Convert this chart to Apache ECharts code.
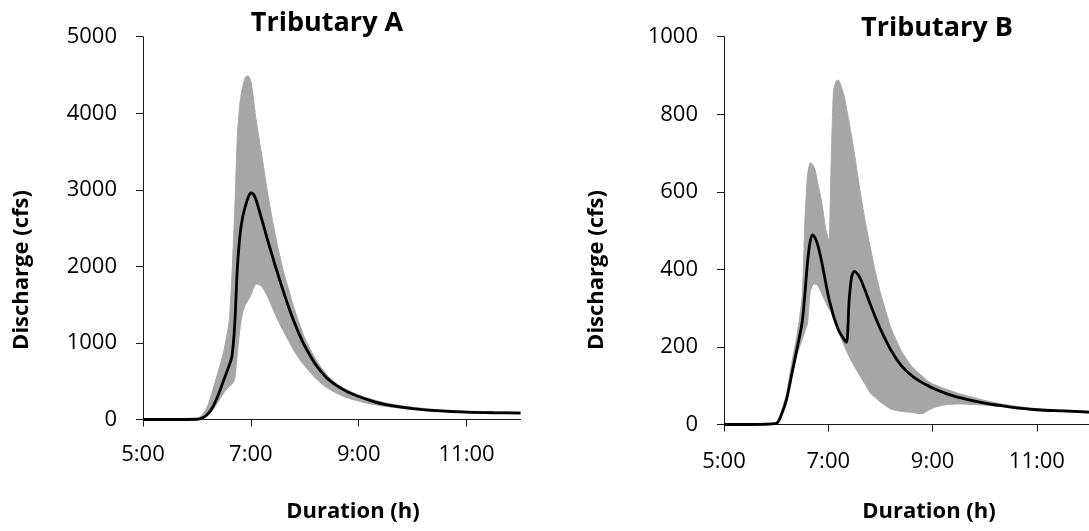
<!DOCTYPE html>
<html>
<head>
<meta charset="utf-8">
<script src="https://cdn.jsdelivr.net/npm/echarts@6/dist/echarts.min.js"></script>
<style>
html,body{margin:0;padding:0;background:#fff;}
#chart{width:1089px;height:531px;}
</style>
</head>
<body>
<div id="chart"></div>
<script>
// ---------- Tributary A ----------
const hoursA = [5.0, 5.5, 6.0, 6.1, 6.2, 6.3, 6.4, 6.5, 6.6, 6.65, 6.7, 6.75, 6.8, 6.85, 6.9, 6.95, 7.0, 7.05, 7.1, 7.2, 7.3, 7.4, 7.5, 7.6, 7.7, 7.8, 7.9, 8.0, 8.2, 8.4, 8.6, 8.8, 9.0, 9.25, 9.5, 10.0, 10.5, 11.0, 11.5, 12.0];
const meanA  = [0, 0, 3, 20, 70, 170, 330, 520, 710, 830, 1230, 1980, 2420, 2650, 2790, 2900, 2960, 2940, 2860, 2620, 2370, 2130, 1900, 1680, 1470, 1280, 1110, 960, 720, 550, 440, 360, 300, 240, 195, 142, 112, 96, 88, 84];
const upperA = [0, 0, 10, 60, 180, 400, 640, 900, 1300, 1900, 2700, 3700, 4150, 4350, 4470, 4490, 4420, 4180, 3900, 3460, 3000, 2600, 2250, 1950, 1700, 1460, 1250, 1060, 790, 590, 460, 380, 320, 262, 215, 160, 126, 110, 102, 98];
const lowerA = [0, 0, 0, 10, 50, 130, 240, 350, 430, 460, 520, 870, 1200, 1400, 1500, 1560, 1620, 1720, 1770, 1740, 1620, 1460, 1300, 1160, 1030, 900, 790, 700, 540, 420, 340, 280, 240, 200, 170, 130, 105, 90, 84, 80];

// ---------- Tributary B ----------
const hoursB = [5.0, 5.5, 6.0, 6.1, 6.2, 6.3, 6.4, 6.5, 6.55, 6.6, 6.65, 6.7, 6.75, 6.8, 6.85, 6.9, 6.95, 7.0, 7.02, 7.06, 7.1, 7.15, 7.2, 7.3, 7.35, 7.4, 7.45, 7.5, 7.6, 7.7, 7.8, 7.9, 8.0, 8.2, 8.4, 8.6, 8.8, 8.9, 9.0, 9.2, 9.5, 10.0, 10.5, 11.0, 11.5, 12.0];
const meanB  = [0, 0, 3, 25, 65, 130, 195, 265, 335, 415, 470, 489, 480, 462, 434, 402, 366, 332, 320, 300, 280, 260, 242, 220, 212, 320, 382, 395, 380, 348, 312, 278, 246, 192, 152, 126, 108, 101, 94, 83, 70, 55, 45, 38, 35, 32];
const upperB = [0, 0, 5, 35, 80, 160, 230, 330, 520, 640, 675, 670, 655, 620, 590, 550, 505, 478, 474, 700, 860, 885, 888, 850, 815, 780, 740, 700, 610, 530, 460, 395, 340, 250, 190, 150, 125, 113, 105, 94, 80, 62, 49, 41, 37, 34];
const lowerB = [0, 0, 2, 20, 60, 120, 180, 220, 240, 260, 340, 360, 362, 358, 345, 330, 315, 300, 298, 288, 272, 255, 238, 205, 190, 175, 162, 150, 127, 105, 82, 70, 58, 40, 34, 31, 28, 35, 42, 50, 53, 50, 44, 37, 33, 30];

const xTickValues = [5, 7, 9, 11];
const yTicksA = [0, 1000, 2000, 3000, 4000, 5000];
const yTicksB = [0, 200, 400, 600, 800, 1000];

const FONT = '"Open Sans", "DejaVu Sans", sans-serif';
const AXIS_COLOR = '#1a1a1a';
const BAND_COLOR = '#a6a6a6';

function pairs(xs, ys) { return xs.map((x, i) => [x, ys[i]]); }
function fmtHour(v) { return Math.round(v) + ':00'; }

function bandSeries(idx, xs, up, lo) {
  return {
    type: 'custom',
    xAxisIndex: idx, yAxisIndex: idx,
    silent: true, z: 1, clip: true,
    data: [[xs[0], 0]],
    renderItem: function (params, api) {
      const pts = [];
      for (let i = 0; i < xs.length; i++) pts.push(api.coord([xs[i], up[i]]));
      for (let i = xs.length - 1; i >= 0; i--) pts.push(api.coord([xs[i], lo[i]]));
      return { type: 'polygon', shape: { points: pts, smooth: 0.2 }, style: { fill: BAND_COLOR, stroke: BAND_COLOR, lineWidth: 1 } };
    }
  };
}

function meanSeries(idx, xs, ys) {
  return {
    type: 'line', xAxisIndex: idx, yAxisIndex: idx,
    data: pairs(xs, ys), showSymbol: false, symbol: 'none',
    smooth: 0.3, z: 3, silent: true,
    lineStyle: { color: '#000', width: 2.8 }
  };
}

function xAxisDef(idx, margin) {
  return {
    type: 'value', gridIndex: idx, min: 5, max: 12, interval: 1,
    axisLine: { show: true, onZero: false, lineStyle: { color: AXIS_COLOR, width: 1 } },
    axisTick: { show: true, length: 7, inside: false, customValues: xTickValues, lineStyle: { color: AXIS_COLOR } },
    axisLabel: { customValues: xTickValues, formatter: fmtHour, margin: margin, fontFamily: FONT, fontSize: 22, color: '#000' },
    splitLine: { show: false }
  };
}

function yAxisDef(idx, maxV, step, ticks) {
  return {
    type: 'value', gridIndex: idx, min: 0, max: maxV, interval: step,
    axisLine: { show: true, lineStyle: { color: AXIS_COLOR, width: 1 } },
    axisTick: { show: true, length: 7, inside: false, customValues: ticks, lineStyle: { color: AXIS_COLOR } },
    axisLabel: { customValues: ticks, formatter: function (v) { return String(v); }, margin: 26, fontFamily: FONT, fontSize: 22, color: '#000' },
    splitLine: { show: false }
  };
}

const chart = echarts.init(document.getElementById('chart'), null, { renderer: 'canvas' });
chart.setOption({
  animation: false,
  backgroundColor: '#fff',
  grid: [
    { left: 143, top: 36.7, right: 568.5, bottom: 111.5 },
    { left: 724, top: 36.7, right: -6.7, bottom: 106.5 }
  ],
  xAxis: [xAxisDef(0, 24), xAxisDef(1, 26)],
  yAxis: [yAxisDef(0, 5000, 1000, yTicksA), yAxisDef(1, 1000, 200, yTicksB)],
  graphic: [
    { type: 'text', x: 327, y: 23, style: { text: 'Tributary A', font: 'bold 27px ' + FONT, fill: '#000', align: 'center', verticalAlign: 'middle' } },
    { type: 'text', x: 937, y: 28, style: { text: 'Tributary B', font: 'bold 27px ' + FONT, fill: '#000', align: 'center', verticalAlign: 'middle' } },
    { type: 'text', x: 22, y: 270, rotation: Math.PI / 2, style: { text: 'Discharge (cfs)', font: 'bold 22px ' + FONT, fill: '#000', align: 'center', verticalAlign: 'middle' } },
    { type: 'text', x: 597, y: 270, rotation: Math.PI / 2, style: { text: 'Discharge (cfs)', font: 'bold 22px ' + FONT, fill: '#000', align: 'center', verticalAlign: 'middle' } },
    { type: 'text', x: 353, y: 512, style: { text: 'Duration (h)', font: 'bold 22px ' + FONT, fill: '#000', align: 'center', verticalAlign: 'middle' } },
    { type: 'text', x: 929, y: 512, style: { text: 'Duration (h)', font: 'bold 22px ' + FONT, fill: '#000', align: 'center', verticalAlign: 'middle' } }
  ],
  series: [
    bandSeries(0, hoursA, upperA, lowerA),
    meanSeries(0, hoursA, meanA),
    bandSeries(1, hoursB, upperB, lowerB),
    meanSeries(1, hoursB, meanB)
  ]
});
</script>
</body>
</html>
